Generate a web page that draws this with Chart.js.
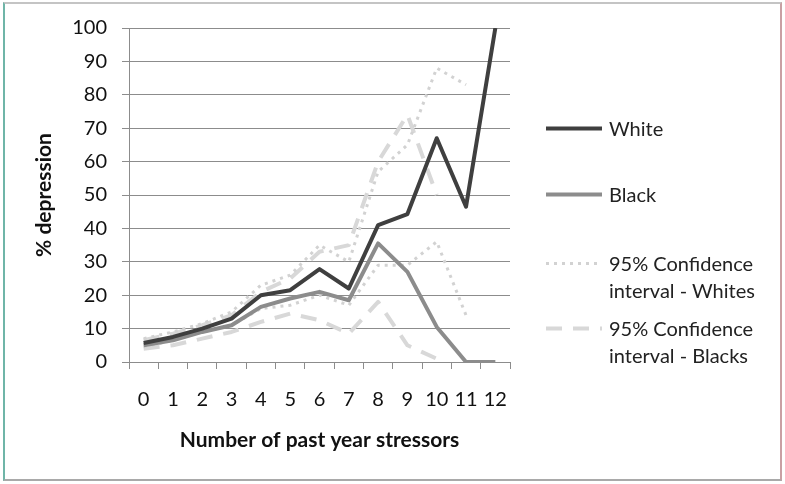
<!DOCTYPE html>
<html>
<head>
<meta charset="utf-8">
<script src="https://cdn.jsdelivr.net/npm/chart.js@4"></script>
<style>
  html, body { margin: 0; padding: 0; background: #fff; }
  #wrap { position: relative; width: 785px; height: 484px; overflow: hidden; font-family: Lato, "Open Sans", sans-serif; }
  #frame { position: absolute; left: 3px; top: 2px; width: 775px; height: 475px;
           border-left: 2px solid #6fb5a8; border-top: 2px solid #c4c4c4;
           border-right: 2px solid #c9a0a4; border-bottom: 2px solid #a9a9a9; }
  #chartBox { position: absolute; left: 0; top: 0; width: 785px; height: 484px; }
  .lg { position: absolute; left: 546px; font-size: 20px; color: #222; line-height: 27px; }
  .lg svg { position: absolute; left: 0; top: 0; }
  .lg span { position: absolute; left: 63px; top: 0; white-space: nowrap; }
</style>
</head>
<body>
<div id="wrap">
  <div id="frame"></div>
  <div id="chartBox"><canvas id="stressChart"></canvas></div>
  <div id="legend"></div>
</div>
<script>
// data
const stressors = ['0', '1', '2', '3', '4', '5', '6', '7', '8', '9', '10', '11', '12'];
const white      = [5.7, 7.5, 10, 13, 20, 21.5, 27.8, 22, 41, 44.3, 67, 46.5, 100];
const black      = [5, 6.5, 9, 11, 16.5, 19, 21, 18.5, 35.5, 27, 10.5, 0, 0];
const whiteUpper = [7, 9, 11.5, 15, 23, 26, 35, 30, 57, 65, 88, 83, null];
const whiteLower = [4.5, 6.5, 9, 11, 16, 17, 20, 17, 29, 29, 36, 14, null];
const blackUpper = [6.5, 8.5, 11, 14, 21, 25, 33, 35, 60, 74, 50, null, null];
const blackLower = [4, 5, 7, 9, 12, 14.5, 12.5, 8.5, 18, 5, 1, null, null];
const yTicks = [0, 10, 20, 30, 40, 50, 60, 70, 80, 90, 100];

const dark = '#3f3f3f', mid = '#8c8c8c', ciW = '#d2d2d2', ciB = '#d8d8d8';
const dotDash = [3, 5], longDash = [16, 11];

const ctx = document.getElementById('stressChart').getContext('2d');
new Chart(ctx, {
    type: 'line',
    data: {
        labels: stressors,
        datasets: [
            { label: 'White', data: white, borderColor: dark, borderWidth: 4 },
            { label: 'Black', data: black, borderColor: mid, borderWidth: 4 },
            { label: '95% Confidence interval - Whites', data: whiteUpper, borderColor: ciW, borderWidth: 3, borderDash: dotDash },
            { label: 'ci-w-low', data: whiteLower, borderColor: ciW, borderWidth: 3, borderDash: dotDash },
            { label: '95% Confidence interval - Blacks', data: blackUpper, borderColor: ciB, borderWidth: 4, borderDash: longDash },
            { label: 'ci-b-low', data: blackLower, borderColor: ciB, borderWidth: 4, borderDash: longDash }
        ]
    },
    options: {
        responsive: true,
        maintainAspectRatio: false,
        animation: false,
        elements: {
            point: { radius: 0 },
            line: { tension: 0, fill: false, borderJoinStyle: 'round' }
        },
        layout: { padding: { top: 28, right: 275, bottom: 0, left: 0 } },
        plugins: {
            legend: { display: false },
            tooltip: { enabled: false }
        },
        scales: {
            x: {
                type: 'category',
                offset: true,
                grid: { display: true, drawOnChartArea: false, offset: true, tickLength: 7, color: '#8c8c8c' },
                border: { display: true, color: '#8c8c8c', width: 1 },
                ticks: { color: '#111', font: { family: 'Lato', size: 20 }, padding: 19, maxRotation: 0, autoSkip: false },
                title: { display: true, text: 'Number of past year stressors', color: '#111',
                         font: { family: 'Lato', size: 21, weight: 'bold' }, padding: { top: 8, bottom: 31 } },
                afterFit: function (s) { s.height = 122; }
            },
            y: {
                min: 0, max: 100,
                afterBuildTicks: function (s) { s.ticks = yTicks.map(v => ({ value: v })); },
                grid: { color: '#8c8c8c', tickLength: 7 },
                border: { display: true, color: '#8c8c8c', width: 1 },
                ticks: { color: '#111', font: { family: 'Lato', size: 20 }, padding: 15 },
                title: { display: true, text: '% depression', color: '#111',
                         font: { family: 'Lato', size: 21, weight: 'bold' }, padding: { top: 32, bottom: 0 } },
                afterFit: function (s) { s.width = 129; }
            }
        }
    }
});

// legend on the right, built as page text
const legendItems = [
    { lines: ['White'], color: dark, width: 4, dash: '', y: 128 },
    { lines: ['Black'], color: mid, width: 4, dash: '', y: 194 },
    { lines: ['95% Confidence', 'interval - Whites'], color: ciW, width: 3, dash: dotDash.join(','), y: 263 },
    { lines: ['95% Confidence', 'interval - Blacks'], color: ciB, width: 4, dash: longDash.join(','), y: 328 }
];
const legendEl = document.getElementById('legend');
legendItems.forEach(function (it) {
    const d = document.createElement('div');
    d.className = 'lg';
    d.style.top = (it.y - 13.5) + 'px';
    d.innerHTML =
        '<svg width="58" height="27"><line x1="0" y1="13.5" x2="56" y2="13.5" stroke="' + it.color +
        '" stroke-width="' + it.width + '" stroke-dasharray="' + it.dash + '"/></svg>' +
        '<span>' + it.lines.join('<br>') + '</span>';
    legendEl.appendChild(d);
});
</script>
</body>
</html>
